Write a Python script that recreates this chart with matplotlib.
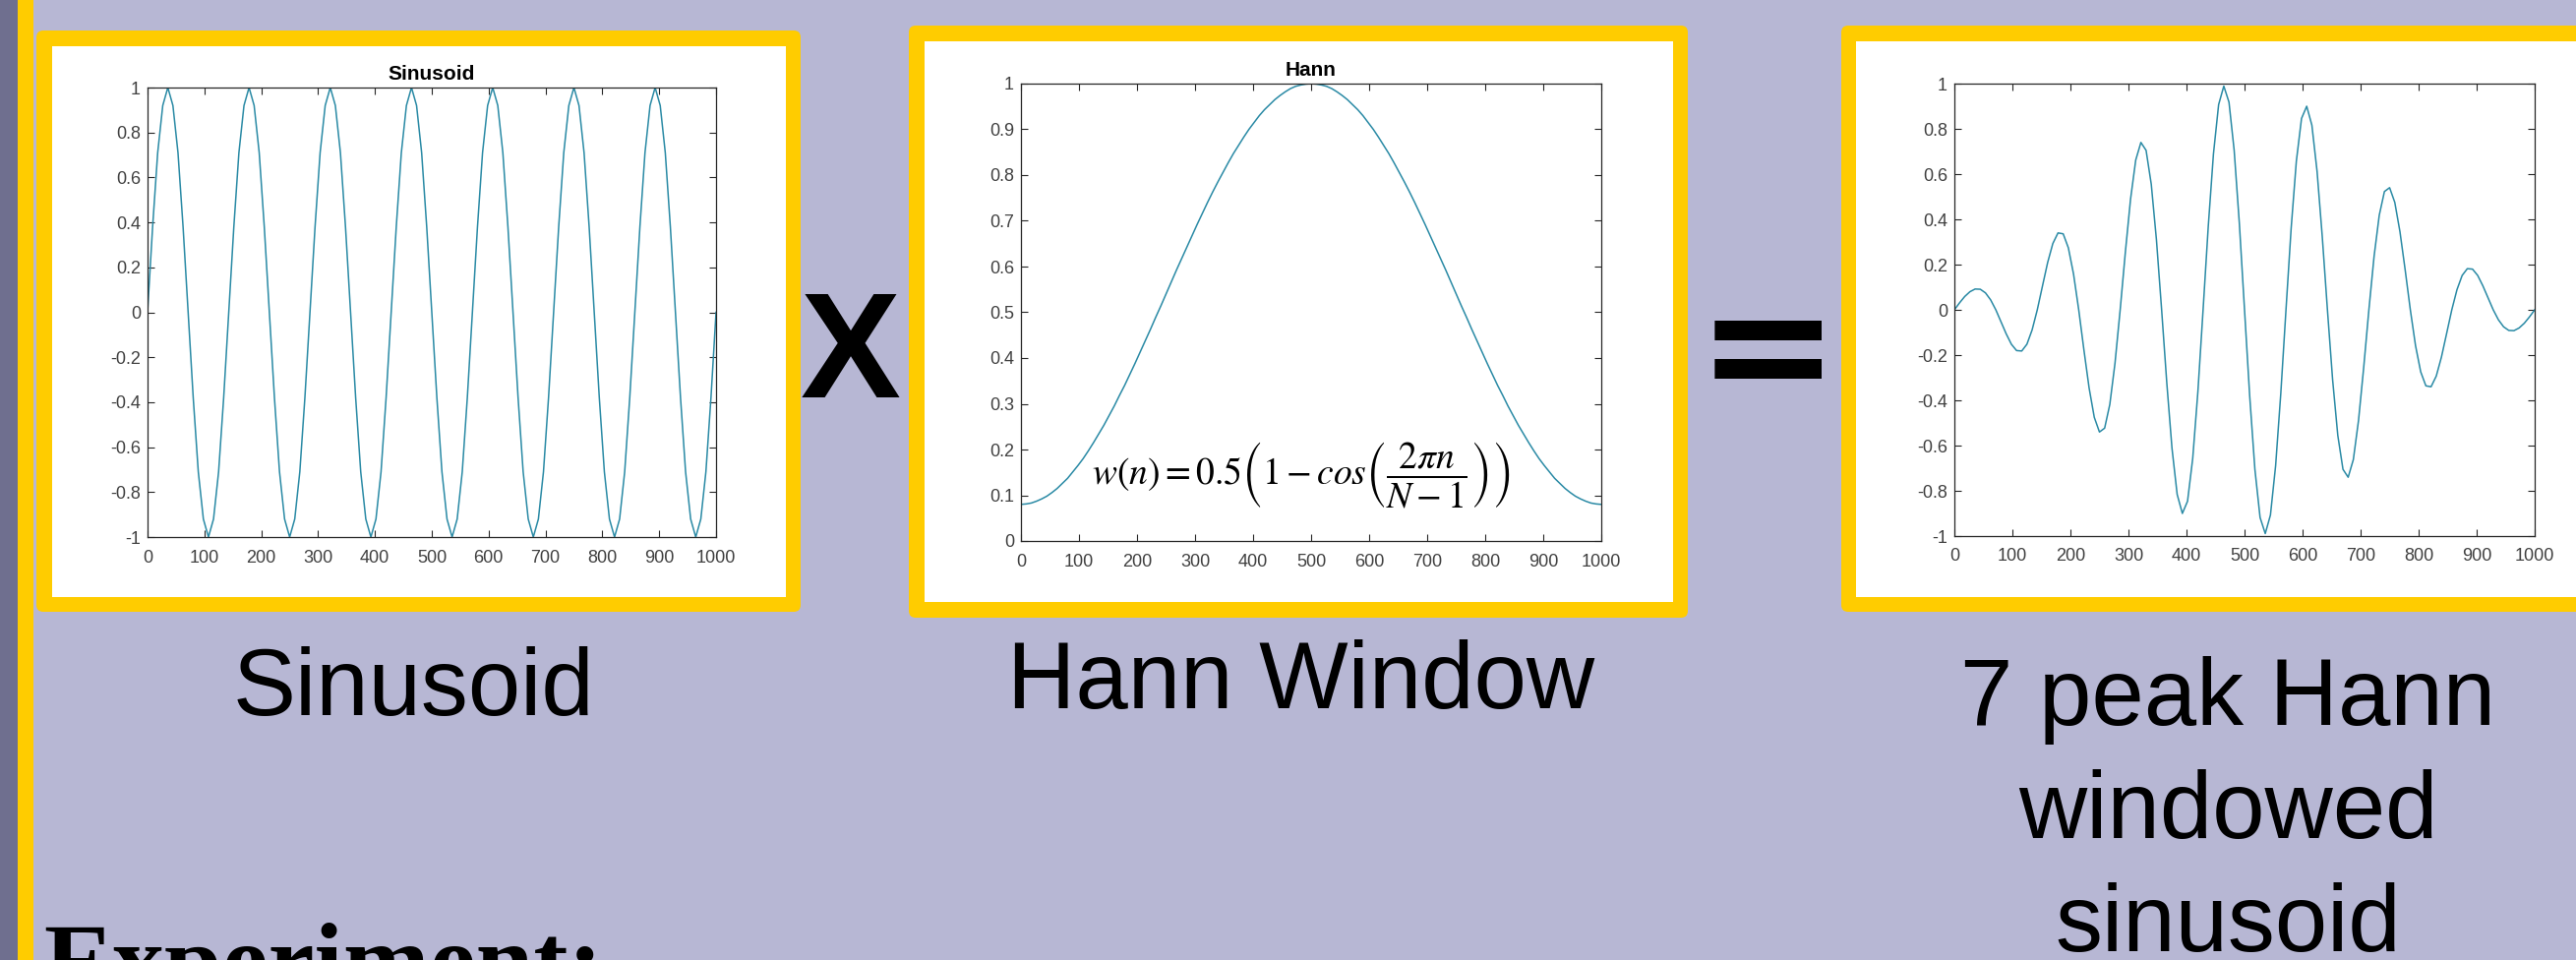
import numpy as np
import matplotlib
matplotlib.use("Agg")
import matplotlib.pyplot as plt
from matplotlib.patches import FancyBboxPatch, Rectangle
from matplotlib.transforms import IdentityTransform

plt.rcParams['font.family'] = ['Liberation Sans', 'DejaVu Sans']
plt.rcParams['mathtext.fontset'] = 'stix'

# sample positions (n) and the values
n = np.linspace(0, 1000, 113)

sinusoid = [0, 0.38, 0.71, 0.92, 1, 0.92, 0.71, 0.38, 0, -0.38, -0.71, -0.92, -1, -0.92, -0.71, -0.38,
            0, 0.38, 0.71, 0.92, 1, 0.92, 0.71, 0.38, 0, -0.38, -0.71, -0.92, -1, -0.92, -0.71, -0.38,
            0, 0.38, 0.71, 0.92, 1, 0.92, 0.71, 0.38, 0, -0.38, -0.71, -0.92, -1, -0.92, -0.71, -0.38,
            0, 0.38, 0.71, 0.92, 1, 0.92, 0.71, 0.38, 0, -0.38, -0.71, -0.92, -1, -0.92, -0.71, -0.38,
            0, 0.38, 0.71, 0.92, 1, 0.92, 0.71, 0.38, 0, -0.38, -0.71, -0.92, -1, -0.92, -0.71, -0.38,
            0, 0.38, 0.71, 0.92, 1, 0.92, 0.71, 0.38, 0, -0.38, -0.71, -0.92, -1, -0.92, -0.71, -0.38,
            0, 0.38, 0.71, 0.92, 1, 0.92, 0.71, 0.38, 0, -0.38, -0.71, -0.92, -1, -0.92, -0.71, -0.38,
            0]

hann = [0.080, 0.081, 0.083, 0.087, 0.092, 0.098, 0.106, 0.115, 0.126, 0.137, 0.151, 0.165, 0.180, 0.197,
        0.215, 0.234, 0.253, 0.274, 0.295, 0.318, 0.340, 0.364, 0.388, 0.413, 0.438, 0.463, 0.489, 0.514,
        0.540, 0.566, 0.592, 0.617, 0.642, 0.667, 0.692, 0.716, 0.740, 0.763, 0.785, 0.806, 0.827, 0.847,
        0.865, 0.883, 0.900, 0.915, 0.930, 0.943, 0.954, 0.965, 0.974, 0.982, 0.989, 0.994, 0.997, 0.999,
        1.000,
        0.999, 0.997, 0.994, 0.989, 0.982, 0.974, 0.965, 0.954, 0.943, 0.930, 0.915, 0.900, 0.883, 0.865,
        0.847, 0.827, 0.806, 0.785, 0.763, 0.740, 0.716, 0.692, 0.667, 0.642, 0.617, 0.592, 0.566, 0.540,
        0.514, 0.489, 0.463, 0.438, 0.413, 0.388, 0.364, 0.340, 0.318, 0.295, 0.274, 0.253, 0.234, 0.215,
        0.197, 0.180, 0.165, 0.151, 0.137, 0.126, 0.115, 0.106, 0.098, 0.092, 0.087, 0.083, 0.081, 0.080]

windowed = [0, 0.031, 0.059, 0.080, 0.092, 0.091, 0.075, 0.044, 0, -0.053, -0.106, -0.152, -0.180, -0.182, -0.152, -0.089,
            0, 0.105, 0.209, 0.293, 0.340, 0.336, 0.274, 0.158, 0, -0.177, -0.345, -0.475, -0.540, -0.523, -0.418, -0.236,
            0, 0.255, 0.489, 0.662, 0.740, 0.705, 0.555, 0.309, 0, -0.324, -0.612, -0.816, -0.900, -0.846, -0.657, -0.361,
            0, 0.369, 0.689, 0.907, 0.989, 0.918, 0.705, 0.382, 0, -0.382, -0.705, -0.918, -0.989, -0.907, -0.689, -0.369,
            0, 0.361, 0.657, 0.846, 0.900, 0.816, 0.612, 0.324, 0, -0.309, -0.555, -0.705, -0.740, -0.662, -0.489, -0.255,
            0, 0.236, 0.418, 0.523, 0.540, 0.475, 0.345, 0.177, 0, -0.158, -0.274, -0.336, -0.340, -0.293, -0.209, -0.105,
            0, 0.089, 0.152, 0.182, 0.180, 0.152, 0.106, 0.053, 0, -0.044, -0.075, -0.091, -0.092, -0.080, -0.059, -0.031,
            0]

xticks = [0, 100, 200, 300, 400, 500, 600, 700, 800, 900, 1000]
xticklabels = ['0', '100', '200', '300', '400', '500', '600', '700', '800', '900', '1000']
sym_yticks = [-1, -0.8, -0.6, -0.4, -0.2, 0, 0.2, 0.4, 0.6, 0.8, 1]
sym_yticklabels = ['-1', '-0.8', '-0.6', '-0.4', '-0.2', '0', '0.2', '0.4', '0.6', '0.8', '1']
hann_yticks = [0, 0.1, 0.2, 0.3, 0.4, 0.5, 0.6, 0.7, 0.8, 0.9, 1]
hann_yticklabels = ['0', '0.1', '0.2', '0.3', '0.4', '0.5', '0.6', '0.7', '0.8', '0.9', '1']

W, H = 2619, 976
BG = '#b7b7d4'
YEL = '#ffcc00'
LINE = '#2a8aa5'

fig = plt.figure(figsize=(W / 100, H / 100), dpi=100, facecolor=BG)


def px_rect(x0, y0, x1, y1, color, rounded=False, z=-2):
    # pixel box given top-down, drawn in display coords
    if rounded:
        p = FancyBboxPatch((x0, H - y1), x1 - x0, y1 - y0,
                           boxstyle="round,pad=0,rounding_size=7",
                           fc=color, ec='none', transform=IdentityTransform(), zorder=z)
    else:
        p = Rectangle((x0, H - y1), x1 - x0, y1 - y0, fc=color, ec='none',
                      transform=IdentityTransform(), zorder=z)
    fig.add_artist(p)


# left side strips
px_rect(0, 0, 18, H, '#6f6f8f')
px_rect(18, 0, 34, H, YEL)

# yellow frames with white cards
px_rect(37, 31, 814, 622, YEL, rounded=True)
px_rect(53, 47, 799, 607, 'white', z=-1)
px_rect(924, 26, 1716, 628, YEL, rounded=True)
px_rect(940, 42, 1701, 612, 'white', z=-1)
px_rect(1872, 26, 2660, 622, YEL, rounded=True)
px_rect(1887, 42, 2660, 607, 'white', z=-1)


def style(ax, yticks, yticklabels, ylim):
    ax.set_xlim(0, 1000)
    ax.set_ylim(*ylim)
    ax.set_xticks(xticks)
    ax.set_xticklabels(xticklabels)
    ax.set_yticks(yticks)
    ax.set_yticklabels(yticklabels)
    ax.tick_params(direction='in', top=True, right=True, length=5, width=0.8,
                   labelsize=13, labelcolor='#404040', color='#262626')
    ax.tick_params(axis='x', pad=9)
    ax.tick_params(axis='y', pad=5)
    for s in ax.spines.values():
        s.set_color('#262626')
        s.set_linewidth(0.9)


ax1 = fig.add_axes([150 / W, 1 - 546 / H, 578 / W, 457 / H])
ax1.plot(n, sinusoid, color=LINE, lw=1.1)
style(ax1, sym_yticks, sym_yticklabels, (-1, 1))
ax1.set_title('Sinusoid', fontsize=15, fontweight='bold', pad=6)

ax2 = fig.add_axes([1038 / W, 1 - 550 / H, 590 / W, 465 / H])
ax2.plot(n, hann, color=LINE, lw=1.1)
style(ax2, hann_yticks, hann_yticklabels, (0, 1))
ax2.set_title('Hann', fontsize=15, fontweight='bold', pad=6)
ax2.text(122, 0.145, r'$w(n) = 0.5\left(1 - cos\left(\dfrac{2\pi n}{N-1}\right)\right)$',
         fontsize=27, ha='left', va='center')

ax3 = fig.add_axes([1987 / W, 1 - 545 / H, 590 / W, 460 / H])
ax3.plot(n, windowed, color=LINE, lw=1.1)
style(ax3, sym_yticks, sym_yticklabels, (-1, 1))

# operators between panels
fig.text(865 / W, 1 - 404 / H, 'X', fontsize=110, fontweight='bold', ha='center', va='baseline')
fig.text(1797 / W, 1 - 410 / H, '=', fontsize=125, fontweight='bold', family='DejaVu Sans',
         ha='center', va='baseline')

# captions
fig.text(420 / W, 1 - 727 / H, 'Sinusoid', fontsize=69, ha='center', va='baseline')
fig.text(1323 / W, 1 - 720 / H, 'Hann Window', fontsize=69, ha='center', va='baseline')
fig.text(2265 / W, 1 - 737 / H, '7 peak Hann', fontsize=69, ha='center', va='baseline')
fig.text(2265 / W, 1 - 852 / H, 'windowed', fontsize=69, ha='center', va='baseline')
fig.text(2265 / W, 1 - 967 / H, 'sinusoid', fontsize=69, ha='center', va='baseline')
fig.text(44 / W, 1 - 1012 / H, 'Experiment:', fontsize=76, fontweight='bold',
         family='Liberation Serif', ha='left', va='baseline')

fig.savefig('out.png', dpi=100, facecolor=BG)
